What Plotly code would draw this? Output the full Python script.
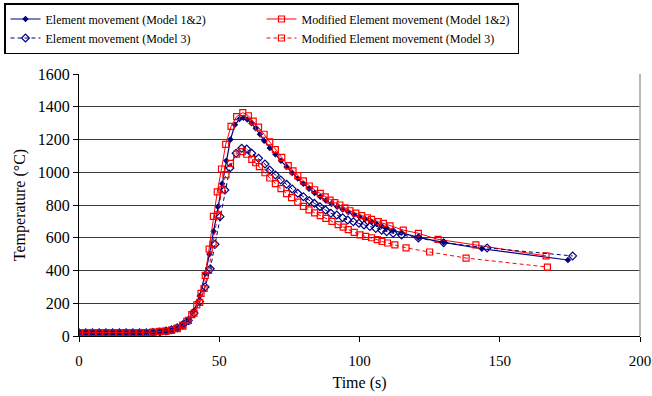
import plotly.graph_objects as go

# ---- data ----
base_t = [0, 2.4, 4.8, 7.2, 9.6, 12, 14.4, 16.8, 19.2, 21.6, 24, 26.4, 28.8]

t_em12 = base_t + [31, 33, 35, 37, 39, 41, 43, 45, 46.5, 48, 49.5, 51, 52.5, 54, 55.6, 57.2, 58.6,
                   60, 61.5, 63, 64.5, 66, 68, 70, 72, 74, 76, 78, 80, 82, 84, 86, 88, 90, 92, 94,
                   96, 98, 100, 102, 104.3, 106.1, 107.9, 109.7, 112, 115, 121, 130, 143.6, 174.3]
T_em12 = [20, 20, 20, 20, 20, 20, 20, 20, 20, 20, 21, 23, 26,
          31, 38, 50, 68, 100, 155, 245, 380, 500, 640, 790, 930, 1070, 1200, 1290, 1325, 1333,
          1322, 1300, 1268, 1232, 1192, 1148, 1110, 1070, 1032, 995, 962, 930, 900, 874, 850,
          828, 808, 790, 773, 757, 742, 728, 714, 697, 684, 672, 660, 646, 630, 602, 572, 533, 464]

t_mod12 = base_t + [31, 33, 35, 37, 38.4, 40.2, 42, 43.5, 45, 46.4, 47.9, 49.3, 50.8, 52.3, 54.2,
                    56.2, 58.4, 60.4, 62.1, 64, 66, 68, 70, 72.3, 74.6, 76.3, 78, 80, 82.1, 84, 86,
                    87.8, 89.5, 91.2, 93, 94.8, 96.6, 98.7, 100.8, 102.8, 104.3, 106.7, 108.5, 110.9,
                    115.6, 121, 128, 141.5, 166.5]
T_mod12 = [20, 20, 20, 20, 20, 20, 20, 20, 20, 20, 21, 23, 26,
           29, 35, 45, 60, 90, 130, 190, 260, 370, 530, 730, 880, 1020, 1170, 1280, 1340, 1364,
           1345, 1312, 1275, 1232, 1185, 1138, 1091, 1040, 1008, 979, 947, 916, 893, 871, 850,
           830, 815, 800, 782, 765, 750, 735, 722, 712, 698, 688, 672, 647, 627, 590, 556, 489]

t_em3 = base_t + [31, 33, 35, 37, 39, 41, 43, 45, 46.8, 48.5, 50.3, 52, 53.8, 56, 58, 59.8, 61.6,
                  64, 66.3, 68, 70, 71.9, 74, 76, 78, 80, 82.1, 83.9, 85.9, 87.9, 89.8, 91.9, 94,
                  95.8, 97.8, 99.8, 101.6, 103.7, 105.8, 107.9, 109.7, 112, 115, 121, 130, 145.5, 176]
T_em3 = [20, 20, 20, 20, 20, 20, 20, 20, 20, 20, 20, 22, 25,
         30, 38, 50, 68, 95, 140, 210, 300, 410, 560, 729, 891, 1026, 1116, 1146, 1142, 1116,
         1085, 1050, 1014, 983, 953, 926, 898, 871, 851, 826, 810, 790, 769, 749, 739, 722,
         708, 698, 688, 678, 668, 657, 646, 637, 627, 617, 598, 570, 538, 489]

t_mod3 = base_t + [31, 33, 35, 37, 39, 41, 43, 44.6, 46.2, 47.8, 49.4, 50.9, 52.4, 54, 56.2, 58.2,
                   59.8, 61.6, 63, 64.3, 66.3, 68, 70, 72, 74, 75.8, 78, 80, 82, 84, 86, 88, 90.2,
                   92.4, 94.2, 96, 98.1, 100.2, 102.2, 104.3, 106.3, 108, 110, 112.6, 116.6, 125,
                   138, 167]
T_mod3 = [20, 20, 20, 20, 20, 20, 20, 20, 20, 20, 21, 24, 28,
          30, 36, 48, 66, 95, 140, 205, 290, 400, 560, 740, 892, 985, 1054, 1111, 1126, 1110,
          1079, 1058, 1034, 997, 965, 930, 900, 870, 845, 817, 792, 770, 752, 735, 718, 700,
          680, 665, 650, 633, 618, 608, 600, 588, 577, 568, 556, 538, 513, 476, 421]

names = ["Element movement (Model 1&2)", "Modified Element movement (Model 1&2)",
         "Element movement (Model 3)", "Modified Element movement (Model 3)"]
x_ticks = [0, 50, 100, 150, 200]
y_ticks = [0, 200, 400, 600, 800, 1000, 1200, 1400, 1600]

NAVY = "#000080"
RED = "#FF0000"
FONT = "Liberation Serif, Times New Roman, serif"

W, H = 652, 396
ML, MR, MT, MB = 79, 12, 74, 60

fig = go.Figure()
fig.add_trace(go.Scatter(x=t_em12, y=T_em12, name=names[0], mode="lines+markers",
                         line=dict(color=NAVY, width=1.2),
                         marker=dict(symbol="diamond", size=5, color=NAVY)))
fig.add_trace(go.Scatter(x=t_mod12, y=T_mod12, name=names[1], mode="lines+markers",
                         line=dict(color=RED, width=1),
                         marker=dict(symbol="square-open", size=6, color=RED, line=dict(width=1.2))))
fig.add_trace(go.Scatter(x=t_em3, y=T_em3, name=names[2], mode="lines+markers",
                         line=dict(color=NAVY, width=1, dash="4px,3px"),
                         marker=dict(symbol="diamond-open", size=6, color=NAVY, line=dict(width=1.2))))
fig.add_trace(go.Scatter(x=t_mod3, y=T_mod3, name=names[3], mode="lines+markers",
                         line=dict(color=RED, width=1, dash="4px,3px"),
                         marker=dict(symbol="square-open", size=6, color=RED, line=dict(width=1.2))))

fig.update_layout(
    width=W, height=H,
    margin=dict(l=ML, r=MR, t=MT, b=MB, autoexpand=False),
    paper_bgcolor="white", plot_bgcolor="white",
    font=dict(family=FONT, size=15, color="black"),
    showlegend=True,
    legend=dict(orientation="h", xref="container", yref="container",
                x=4 / W, y=1 - 3 / H, xanchor="left", yanchor="top",
                entrywidth=211, entrywidthmode="pixels", itemwidth=30,
                borderwidth=1.5, bordercolor="black", bgcolor="rgba(255,255,255,0)",
                font=dict(family=FONT, size=12, color="black")),
    xaxis=dict(range=[0, 200], tickvals=x_ticks, ticks="outside", ticklen=5,
               tickcolor="black", showline=True, linecolor="black", linewidth=1,
               showgrid=False, zeroline=False, ticklabelstandoff=6,
               tickfont=dict(family=FONT, size=15),
               title=dict(text="Time (s)", font=dict(family=FONT, size=16), standoff=8)),
    yaxis=dict(range=[0, 1600], tickvals=y_ticks, ticks="outside", ticklen=5,
               tickcolor="black", showline=True, linecolor="black", linewidth=1,
               showgrid=True, gridcolor="#3a3a3a", gridwidth=1, zeroline=False,
               tickfont=dict(family=FONT, size=16),
               title=dict(text="Temperature (°C)", font=dict(family=FONT, size=16), standoff=8)),
    shapes=[
        dict(type="line", xref="paper", yref="paper", x0=1, x1=1, y0=0, y1=1,
             line=dict(color="#a0a0a0", width=1.5)),
    ],
)

fig.write_html("out.html", config={"displayModeBar": False})
